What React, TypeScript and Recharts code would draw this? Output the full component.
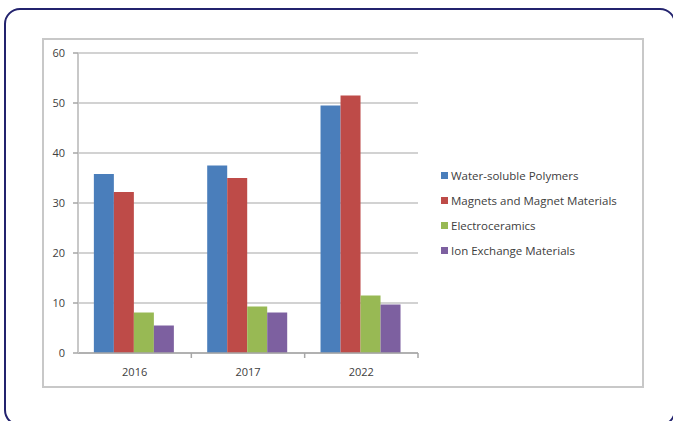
import React from "react";
import { BarChart, Bar, XAxis, YAxis, CartesianGrid, Legend } from "recharts";

const categories = ["2016", "2017", "2022"];
const waterSoluble = [35.8, 37.5, 49.5];
const magnets = [32.2, 35.0, 51.5];
const electroceramics = [8.1, 9.3, 11.5];
const ionExchange = [5.5, 8.1, 9.7];
const yTicks = [0, 10, 20, 30, 40, 50, 60];

const seriesNames = [
  "Water-soluble Polymers",
  "Magnets and Magnet Materials",
  "Electroceramics",
  "Ion Exchange Materials",
];
const seriesColors = ["#4A7EBB", "#BE4B48", "#98B954", "#7D60A0"];

const data = categories.map((c, i) => ({
  year: c,
  s0: waterSoluble[i],
  s1: magnets[i],
  s2: electroceramics[i],
  s3: ionExchange[i],
}));

const W = 673;
const H = 421;
const M = { top: 53, right: 255, bottom: 38, left: 48 };
const YW = 30;
const XH = 30;
const PLOT_LEFT = M.left + YW;
const PLOT_RIGHT = W - M.right;
const AXIS_Y = H - M.bottom - XH;
const BAND = (PLOT_RIGHT - PLOT_LEFT) / categories.length;
const FONT = "'Open Sans', 'Liberation Sans', sans-serif";

const CatTick = (props: any) => {
  const { x, payload } = props;
  const right = x + BAND / 2;
  return (
    <g>
      <line x1={right} x2={right} y1={AXIS_Y} y2={AXIS_Y + 5} stroke="#a6a6a6" strokeWidth={1.5} />
      <text
        x={x}
        y={AXIS_Y + 19}
        dy="0.35em"
        textAnchor="middle"
        fill="#404040"
        fontSize={11}
        fontFamily={FONT}
      >
        {payload.value}
      </text>
    </g>
  );
};

const LegendContent = () => (
  <div style={{ fontFamily: FONT, fontSize: 11.5, color: "#404040" }}>
    {seriesNames.map((n, i) => (
      <div key={n} style={{ display: "flex", alignItems: "center", height: 25 }}>
        <span
          style={{
            display: "inline-block",
            width: 7,
            height: 7,
            background: seriesColors[i],
            marginRight: 3,
          }}
        />
        <span>{n}</span>
      </div>
    ))}
  </div>
);

export default function App() {
  return (
    <div style={{ position: "fixed", left: 0, top: 0, width: W, height: H, background: "#fff", overflow: "hidden" }}>
      <div
        style={{
          position: "absolute",
          left: 4,
          top: 8,
          width: 672,
          height: 418,
          border: "2px solid #23236e",
          borderRadius: 16,
          boxSizing: "border-box",
        }}
      />
      <div
        style={{
          position: "absolute",
          left: 42,
          top: 38,
          width: 602,
          height: 350,
          border: "2px solid #c8c8c8",
          boxSizing: "border-box",
          background: "#fff",
        }}
      />
      <div style={{ position: "absolute", left: 0, top: 0 }}>
        <BarChart width={W} height={H} data={data} margin={M} barCategoryGap="14%" barGap={0}>
          <CartesianGrid horizontal vertical={false} stroke="#a6a6a6" strokeWidth={1.2} />
          <XAxis
            dataKey="year"
            height={XH}
            axisLine={{ stroke: "#a6a6a6", strokeWidth: 1.5 }}
            tickLine={false}
            tick={<CatTick />}
            interval={0}
          />
          <YAxis
            width={YW}
            domain={[0, 60]}
            ticks={yTicks}
            interval={0}
            axisLine={{ stroke: "#c8c8c8", strokeWidth: 2 }}
            tickLine={{ stroke: "#a6a6a6", strokeWidth: 1.5 }}
            tickSize={5}
            tickMargin={8}
            tick={{ fill: "#404040", fontSize: 11, fontFamily: FONT }}
          />
          <Legend
            layout="vertical"
            align="center"
            verticalAlign="middle"
            content={<LegendContent />}
            wrapperStyle={{ position: "absolute", left: 441, top: 163, width: 220, margin: 0 }}
          />
          {seriesNames.map((n, i) => (
            <Bar key={n} dataKey={`s${i}`} name={n} fill={seriesColors[i]} isAnimationActive={false} />
          ))}
        </BarChart>
      </div>
    </div>
  );
}
